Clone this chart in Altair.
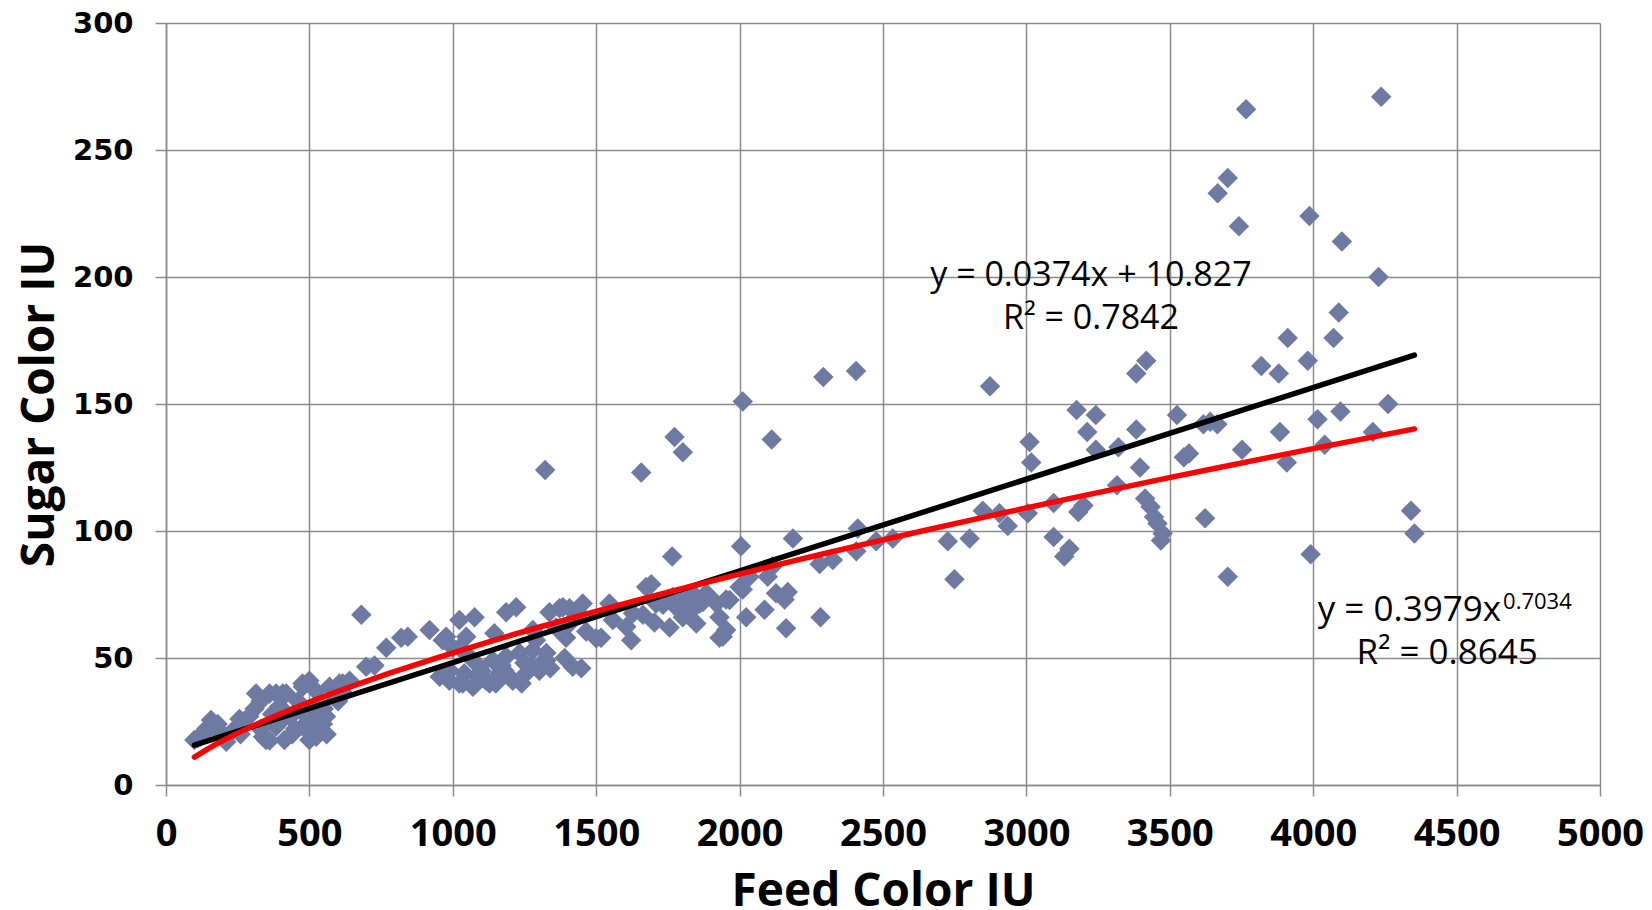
import altair as alt
import pandas as pd

# Feed colour (IU) and sugar colour (IU)
feed = [
    99, 111, 120, 130, 140, 157, 170, 180, 190, 198, 210, 230, 245, 256, 260, 270, 290, 309, 314,
    330, 330, 338, 349, 361, 361, 370, 384, 384, 396, 400, 407, 413, 419, 430, 440, 450, 453, 460,
    476, 477, 477, 490, 500, 500, 520, 523, 524, 524, 530, 547, 550, 558, 560, 570, 580, 600, 605,
    616, 620, 640, 681, 698, 727, 768, 820, 843, 919, 954, 965, 977, 988, 990, 1000, 1023, 1023,
    1023, 1035, 1040, 1047, 1058, 1070, 1076, 1081, 1090, 1093, 1100, 1116, 1128, 1140, 1145, 1150, 1163,
    1170, 1180, 1186, 1186, 1198, 1209, 1221, 1233, 1240, 1250, 1256, 1270, 1279, 1279, 1290, 1302, 1310, 1322,
    1326, 1326, 1337, 1340, 1360, 1372, 1384, 1390, 1395, 1407, 1407, 1418, 1437, 1448, 1453, 1465,
    1500, 1517, 1546, 1558, 1605, 1622, 1628, 1657, 1663, 1674, 1692, 1703, 1709, 1733,
    1756, 1765, 1767, 1773, 1779, 1802, 1802, 1802, 1826, 1837, 1849, 1861, 1872, 1884,
    1919, 1930, 1930, 1941, 1953, 1953, 1965, 2000, 2005, 2011, 2011, 2023, 2034, 2087,
    2098, 2112, 2115, 2127, 2157, 2162, 2168, 2186, 2279, 2282, 2292, 2325, 2406, 2407,
    2412, 2476, 2534, 2726, 2749, 2802, 2848, 2873, 2906, 2935, 3005, 3011, 3017, 3095,
    3095, 3132, 3150, 3175, 3181, 3199, 3212, 3242, 3242, 3316, 3321, 3383, 3383, 3396,
    3414, 3418, 3433, 3445, 3457, 3469, 3475, 3525, 3549, 3567, 3617, 3623, 3641, 3666,
    3667, 3702, 3702, 3741, 3752, 3766, 3819, 3880, 3884, 3908, 3911, 3981, 3987, 3991,
    4015, 4040, 4071, 4089, 4095, 4100, 4208, 4228, 4237, 4261, 4341, 4353,
]
sugar = [
    17.7, 18.4, 19, 20, 22, 25.6, 22, 24, 21, 19, 17, 21, 22, 26, 20, 25, 27, 30, 36,
    33, 22, 19, 17.7, 36, 17.5, 28, 23, 36, 31, 25, 36, 17.7, 36, 27, 20, 22, 29, 33,
    40, 23, 38.7, 27, 17.7, 41, 26, 37, 31, 19, 22, 24, 30, 27, 20, 38.7, 35, 33, 40,
    40, 36, 41, 67, 46.6, 47, 54, 58, 58.4, 61, 42.6, 57, 58.4, 41, 45, 54, 65, 40,
    54, 40, 44, 58.4, 50.5, 38.7, 66, 40, 42, 46.6, 45, 41, 40, 49, 59.7, 40, 44,
    47, 45, 68, 50.5, 42.6, 41, 70, 52, 40, 48, 44, 47, 61, 53, 57, 45, 48, 124,
    52, 49, 68, 46, 62, 69.6, 70, 50, 58, 69.6, 63.6, 46.6, 68, 46, 71.5, 60.4,
    57.8, 58, 71.5, 65, 62.3, 57, 67.6, 123, 67, 78, 79, 64, 71.5, 71,
    62, 90, 74, 137, 70, 131, 66, 72.8, 68, 75.5, 63.6, 71.5, 72, 75.5,
    71.5, 58, 66, 58.4, 61, 73, 72.8, 78, 94, 151, 77, 66, 82, 69,
    82, 136, 86, 75.5, 73, 61.7, 76, 97, 87, 66, 160.6, 88.6, 163, 92,
    101, 96, 97, 96, 81, 97, 108, 157, 107, 102, 107, 135, 127, 111,
    97.6, 90, 93, 147.6, 107.5, 110, 139, 145.7, 132, 118, 133, 140, 162, 125,
    112.8, 167, 109.5, 105.5, 103, 96.3, 99, 145.7, 129, 130.5, 142, 105, 143, 142,
    233, 239, 82, 220, 132, 266, 165, 162, 139, 127, 176, 167, 224, 90.8,
    144, 134, 176, 186, 147, 214, 139, 200, 271, 150, 108, 99,
]

x_ticks = [0, 500, 1000, 1500, 2000, 2500, 3000, 3500, 4000, 4500, 5000]
y_ticks = [0, 50, 100, 150, 200, 250, 300]

linear_label = ["y = 0.0374x + 10.827", "R² = 0.7842"]
power_label = "y = 0.3979x"
power_exponent = "0.7034"
power_r2 = "R² = 0.8645"

df = pd.DataFrame({"feed": feed, "sugar": sugar})

GRID = "#8c8c8c"

x_enc = alt.X(
    "feed:Q",
    scale=alt.Scale(domain=[0, 5000], nice=False, zero=True),
    axis=alt.Axis(
        values=x_ticks, title="Feed Color IU", format="d",
        grid=True, gridColor=GRID, gridWidth=1.5,
        domainColor=GRID, domainWidth=1.5, tickColor=GRID, tickWidth=1.5, tickSize=11,
        labelFont="Open Sans", labelFontWeight="bold", labelFontSize=38, labelColor="black",
        labelPadding=19, labelFlush=False, labelOverlap=False,
        titleFont="Open Sans", titleFontWeight="bold", titleFontSize=46, titleColor="black",
        titlePadding=16,
    ),
)
y_enc = alt.Y(
    "sugar:Q",
    scale=alt.Scale(domain=[0, 300], nice=False, zero=True),
    axis=alt.Axis(
        values=y_ticks, title="Sugar Color IU", format="d",
        grid=True, gridColor=GRID, gridWidth=1.5,
        domainColor=GRID, domainWidth=1.5, tickColor=GRID, tickWidth=1.5, tickSize=11,
        labelFont="DejaVu Sans", labelFontWeight="bold", labelFontSize=29, labelColor="black",
        labelPadding=22, labelFlush=False, labelOverlap=False,
        titleFont="Open Sans", titleFontWeight="bold", titleFontSize=46, titleColor="black",
        titlePadding=9,
    ),
)

base = alt.Chart(df)

points = base.mark_point(
    shape="diamond", filled=True, size=420, color="#6E7AA2", opacity=1
).encode(x=x_enc, y=y_enc)

linear = base.transform_regression(
    "feed", "sugar", method="linear"
).mark_line(color="black", strokeWidth=5.5, strokeCap="round").encode(x=x_enc, y=y_enc)

power = base.transform_regression(
    "feed", "sugar", method="pow"
).mark_line(color="#ff0000", strokeWidth=5.5, strokeCap="round").encode(x=x_enc, y=y_enc)

lin_df = pd.DataFrame({"feed": [3225, 3225], "sugar": [196.5, 179.5], "label": linear_label})
lin_text = alt.Chart(lin_df).mark_text(
    font="Open Sans", fontSize=34, color="black", align="center", baseline="alphabetic"
).encode(x=x_enc, y=y_enc, text="label:N")

pow_df = pd.DataFrame({"feed": [4655], "sugar": [64.5], "label": [power_label]})
pow_text = alt.Chart(pow_df).mark_text(
    font="Open Sans", fontSize=35, color="black", align="right", baseline="alphabetic"
).encode(x=x_enc, y=y_enc, text="label:N")

exp_df = pd.DataFrame({"feed": [4662], "sugar": [69.3], "label": [power_exponent]})
exp_text = alt.Chart(exp_df).mark_text(
    font="Open Sans", fontSize=22, color="black", align="left", baseline="alphabetic"
).encode(x=x_enc, y=y_enc, text="label:N")

r2_df = pd.DataFrame({"feed": [4467], "sugar": [47.6], "label": [power_r2]})
r2_text = alt.Chart(r2_df).mark_text(
    font="Open Sans", fontSize=35, color="black", align="center", baseline="alphabetic"
).encode(x=x_enc, y=y_enc, text="label:N")

chart = alt.layer(points, linear, power, lin_text, pow_text, exp_text, r2_text).properties(
    width=1434, height=762,
    autosize=alt.AutoSizeParams(type="none"),
    padding={"left": 166, "top": 23, "right": 52, "bottom": 125},
    background="white",
).configure_view(stroke=None)

chart.save("out.html", embed_options={"renderer": "svg", "actions": False})
